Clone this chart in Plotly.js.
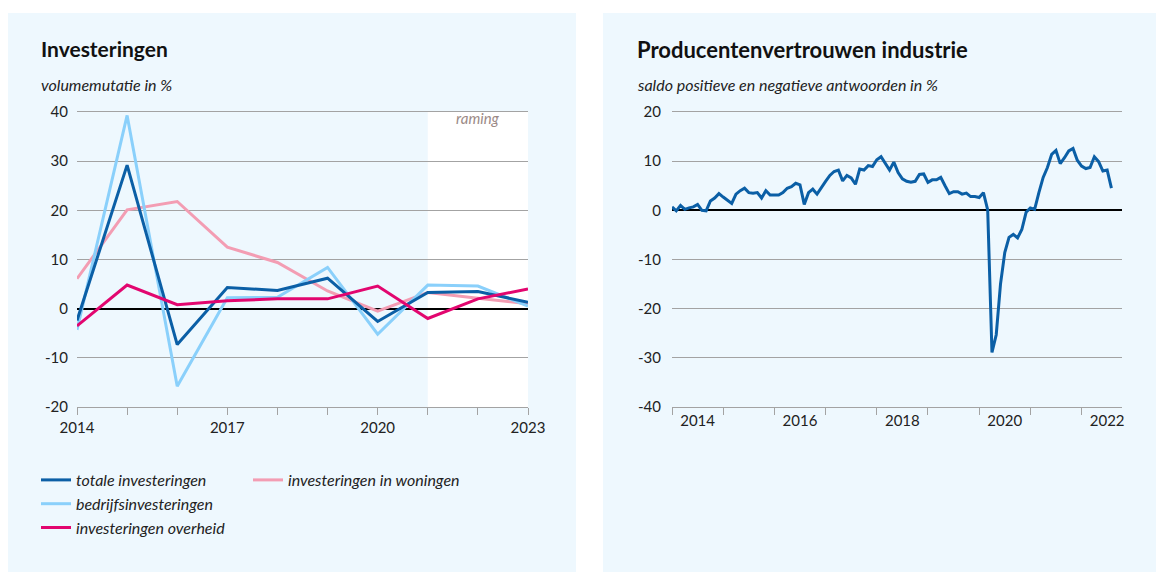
<!DOCTYPE html>
<html>
<head>
<meta charset="utf-8">
<script src="https://cdn.plot.ly/plotly-3.0.1.min.js"></script>
<style>html,body{margin:0;padding:0;background:#fff;}#chart{width:1156px;height:572px;}</style>
</head>
<body>
<div id="chart"></div>
<script>
// ---- Data: Investeringen (volumemutatie in %) ----
const jaren = [2014, 2015, 2016, 2017, 2018, 2019, 2020, 2021, 2022, 2023];
const totaleInvesteringen = [-2.4, 29.2, -7.3, 4.3, 3.7, 6.2, -2.6, 3.3, 3.5, 1.3];
const bedrijfsinvesteringen = [-4.3, 39.3, -15.8, 2.2, 2.3, 8.4, -5.2, 4.8, 4.6, 0.5];
const investeringenOverheid = [-3.5, 4.8, 0.8, 1.6, 2.0, 2.0, 4.6, -2.0, 2.0, 4.0];
const investeringenWoningen = [6.1, 20.1, 21.8, 12.5, 9.4, 3.6, -0.5, 3.3, 2.1, 1.0];
const jaarLabels = ['2014', '', '', '2017', '', '', '2020', '', '', '2023'];
const linksYTicks = [-20, -10, 0, 10, 20, 30, 40];
const ramingVan = 2021, ramingTot = 2023;

// ---- Data: Producentenvertrouwen industrie (maandelijks vanaf jan 2014) ----
const vertrouwenStartJaar = 2014;
const producentenvertrouwen = [
  0.7, -0.1, 1.0, 0.2, 0.5, 0.7, 1.2, 0.0, -0.1, 1.9, 2.5, 3.4,
  2.7, 2.1, 1.4, 3.3, 4.0, 4.5, 3.6, 3.5, 3.6, 2.5, 4.0, 3.1,
  3.1, 3.1, 3.6, 4.5, 4.8, 5.5, 5.2, 1.2, 3.6, 4.3, 3.3, 4.7,
  5.9, 7.1, 7.9, 8.2, 6.0, 7.1, 6.6, 5.3, 8.4, 8.2, 9.1, 8.9,
  10.3, 10.9, 9.6, 8.2, 9.8, 7.7, 6.4, 5.9, 5.7, 5.9, 7.3, 7.4,
  5.7, 6.2, 6.2, 6.7, 5.0, 3.4, 3.8, 3.8, 3.3, 3.5, 2.8, 2.8,
  2.6, 3.6, 0.1, -28.9, -25.3, -15.0, -8.6, -5.5, -4.9, -5.6, -3.9, -0.4,
  0.5, 0.2, 3.6, 6.7, 8.7, 11.4, 12.2, 9.5, 10.7, 12.1, 12.6, 10.2,
  9.0, 8.5, 8.7, 10.9, 9.9, 8.0, 8.2, 4.5
];
const rechtsJaarTicks = [2014, 2015, 2016, 2017, 2018, 2019, 2020, 2021, 2022];
const rechtsLabelJaren = [2014, 2016, 2018, 2020, 2022];
const rechtsYTicks = [-40, -30, -20, -10, 0, 10, 20];

const maanden = producentenvertrouwen.map((v, i) => vertrouwenStartJaar + i / 12);

// ---- Styles ----
const W = 1156, H = 572;
const px = v => v / W;
const py = v => 1 - v / H;
const gridKleur = '#a3a3a3';
const panelKleur = '#eef8fe';
const donkerBlauw = '#0b5fa6';
const lichtBlauw = '#8ad0fb';
const magenta = '#e2066f';
const roze = '#f39db3';
const fam = 'Lato, "Noto Sans", sans-serif';

const lw = 3;
const traces = [
  {x: jaren, y: investeringenWoningen, name: 'investeringen in woningen', type: 'scatter', mode: 'lines',
   line: {color: roze, width: lw}, xaxis: 'x', yaxis: 'y', legend: 'legend2'},
  {x: jaren, y: bedrijfsinvesteringen, name: 'bedrijfsinvesteringen', type: 'scatter', mode: 'lines',
   line: {color: lichtBlauw, width: lw}, xaxis: 'x', yaxis: 'y', legend: 'legend', legendrank: 2},
  {x: jaren, y: totaleInvesteringen, name: 'totale investeringen', type: 'scatter', mode: 'lines',
   line: {color: donkerBlauw, width: lw}, xaxis: 'x', yaxis: 'y', legend: 'legend', legendrank: 1},
  {x: jaren, y: investeringenOverheid, name: 'investeringen overheid', type: 'scatter', mode: 'lines',
   line: {color: magenta, width: lw}, xaxis: 'x', yaxis: 'y', legend: 'legend', legendrank: 3},
  {x: maanden, y: producentenvertrouwen, name: 'producentenvertrouwen', type: 'scatter', mode: 'lines',
   line: {color: donkerBlauw, width: lw}, xaxis: 'x2', yaxis: 'y2', showlegend: false}
];

const yDomain = [py(407), py(112)];
const tickFont = {family: fam, size: 15, color: '#222'};

const layout = {
  width: W, height: H,
  margin: {l: 0, r: 0, t: 0, b: 0},
  paper_bgcolor: '#ffffff',
  plot_bgcolor: 'rgba(0,0,0,0)',
  font: {family: fam, size: 15, color: '#222'},
  showlegend: true,
  xaxis: {
    domain: [px(77), px(528)], range: [2014, 2023], anchor: 'y',
    tickmode: 'array', tickvals: jaren, ticktext: jaarLabels,
    ticks: 'outside', ticklen: 7, tickwidth: 1, tickcolor: gridKleur,
    showgrid: false, zeroline: false,
    showline: true, mirror: true, linecolor: gridKleur, linewidth: 1.2,
    tickfont: tickFont
  },
  yaxis: {
    domain: yDomain, range: [-20, 40], anchor: 'x',
    tickmode: 'array', tickvals: linksYTicks, ticktext: linksYTicks.map(String),
    ticks: '', showgrid: true, gridcolor: gridKleur, gridwidth: 1.2,
    zeroline: true, zerolinecolor: '#000', zerolinewidth: 2,
    showline: false, ticklabelstandoff: 8, tickfont: tickFont
  },
  xaxis2: {
    domain: [px(672), px(1122)], range: [2014, 2022.79], anchor: 'y2',
    tickmode: 'array', tickvals: rechtsLabelJaren.map(j => j + 0.5), ticktext: rechtsLabelJaren.map(String),
    ticks: '',
    minor: {tickmode: 'array', tickvals: rechtsJaarTicks, ticks: 'outside', ticklen: 7, tickwidth: 1, tickcolor: gridKleur, showgrid: false},
    showgrid: false, zeroline: false,
    showline: true, mirror: true, linecolor: gridKleur, linewidth: 1.2,
    tickfont: tickFont
  },
  yaxis2: {
    domain: yDomain, range: [-40, 20], anchor: 'x2',
    tickmode: 'array', tickvals: rechtsYTicks, ticktext: rechtsYTicks.map(String),
    ticks: '', showgrid: true, gridcolor: gridKleur, gridwidth: 1.2,
    zeroline: true, zerolinecolor: '#000', zerolinewidth: 2,
    showline: false, ticklabelstandoff: 10, tickfont: tickFont
  },
  legend: {
    x: px(36), y: py(463), xanchor: 'left', yanchor: 'top', orientation: 'v',
    bgcolor: 'rgba(0,0,0,0)', font: {family: fam, size: 16, style: 'italic', color: '#222'},
    traceorder: 'normal', itemwidth: 30, tracegroupgap: 0
  },
  legend2: {
    x: px(248), y: py(463), xanchor: 'left', yanchor: 'top', orientation: 'v',
    bgcolor: 'rgba(0,0,0,0)', font: {family: fam, size: 16, style: 'italic', color: '#222'},
    itemwidth: 30
  },
  shapes: [
    {type: 'rect', xref: 'paper', yref: 'paper', x0: px(8), x1: px(576), y0: 0, y1: py(13),
     fillcolor: panelKleur, line: {width: 0}, layer: 'below'},
    {type: 'rect', xref: 'paper', yref: 'paper', x0: px(603), x1: 1, y0: 0, y1: py(13),
     fillcolor: panelKleur, line: {width: 0}, layer: 'below'},
    {type: 'rect', xref: 'x', yref: 'y', x0: ramingVan, x1: ramingTot, y0: -20, y1: 40,
     fillcolor: '#ffffff', line: {width: 0}, layer: 'below'}
  ],
  annotations: [
    {text: '<b>Investeringen</b>', xref: 'paper', yref: 'paper', x: px(39), y: py(48),
     xanchor: 'left', yanchor: 'middle', showarrow: false, font: {family: fam, size: 21, color: '#111'}},
    {text: 'volumemutatie in %', xref: 'paper', yref: 'paper', x: px(39), y: py(85),
     xanchor: 'left', yanchor: 'middle', showarrow: false, font: {family: fam, size: 16, style: 'italic', color: '#222'}},
    {text: '<b>Producentenvertrouwen industrie</b>', xref: 'paper', yref: 'paper', x: px(635), y: py(50),
     xanchor: 'left', yanchor: 'middle', showarrow: false, font: {family: fam, size: 22, color: '#111'}},
    {text: 'saldo positieve en negatieve antwoorden in %', xref: 'paper', yref: 'paper', x: px(635), y: py(84),
     xanchor: 'left', yanchor: 'middle', showarrow: false, font: {family: fam, size: 16, style: 'italic', color: '#222'}},
    {text: 'raming', xref: 'paper', yref: 'paper', x: px(478), y: py(118),
     xanchor: 'center', yanchor: 'middle', showarrow: false, font: {family: fam, size: 15, style: 'italic', color: '#9b8a87'}}
  ]
};

Plotly.newPlot('chart', traces, layout, {staticPlot: true, displayModeBar: false});
</script>
</body>
</html>
